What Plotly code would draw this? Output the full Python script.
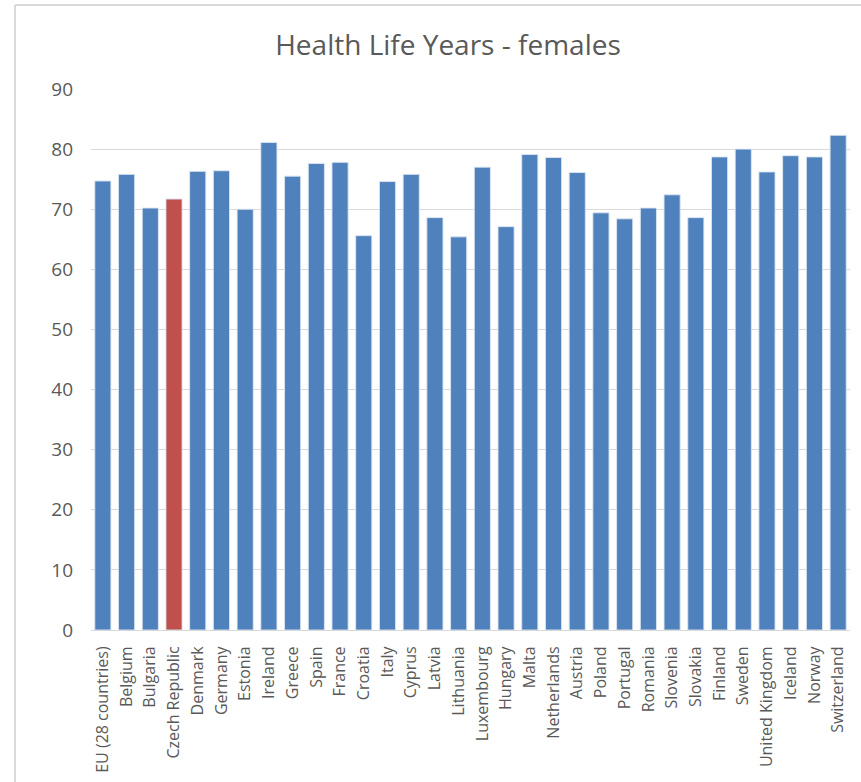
import plotly.graph_objects as go

countries = [
    "EU (28 countries)", "Belgium", "Bulgaria", "Czech Republic", "Denmark",
    "Germany", "Estonia", "Ireland", "Greece", "Spain", "France", "Croatia",
    "Italy", "Cyprus", "Latvia", "Lithuania", "Luxembourg", "Hungary", "Malta",
    "Netherlands", "Austria", "Poland", "Portugal", "Romania", "Slovenia",
    "Slovakia", "Finland", "Sweden", "United Kingdom", "Iceland", "Norway",
    "Switzerland",
]
years = [
    74.7, 75.8, 70.2, 71.7, 76.3,
    76.4, 70.0, 81.1, 75.5, 77.6, 77.8, 65.6,
    74.6, 75.8, 68.6, 65.4, 77.0, 67.1, 79.1,
    78.6, 76.1, 69.4, 68.4, 70.2, 72.4,
    68.6, 78.7, 80.0, 76.2, 78.9, 78.7,
    82.3,
]
highlight = "Czech Republic"
y_ticks = [0, 10, 20, 30, 40, 50, 60, 70, 80, 90]

BLUE = "#4F81BD"
RED = "#C0504D"
bar_colors = [RED if c == highlight else BLUE for c in countries]

W, H = 861, 782
L, R, T, B = 91, 11, 89, 152
PW, PH = W - L - R, H - T - B

fig = go.Figure(
    go.Bar(
        x=countries,
        y=years,
        marker=dict(color=bar_colors, line=dict(color="rgba(220,230,242,0.9)", width=1)),
        width=0.68,
        hoverinfo="x+y",
    )
)

fig.update_layout(
    width=W,
    height=H,
    margin=dict(l=L, r=R, t=T, b=B, autoexpand=False),
    paper_bgcolor="white",
    plot_bgcolor="white",
    showlegend=False,
    font=dict(family="Open Sans, sans-serif", color="#595959"),
    title=dict(
        text="Health Life Years - females",
        x=448 / W,
        xanchor="center",
        y=1 - 45 / H,
        yanchor="middle",
        font=dict(size=28, color="#595959", family="Open Sans, sans-serif"),
    ),
    xaxis=dict(
        tickangle=-90,
        tickfont=dict(size=16, color="#595959"),
        showgrid=False,
        showline=True,
        linecolor="#D9D9D9",
        linewidth=1,
        ticks="",
        ticklabelstandoff=9,
        automargin=False,
        range=[-0.5, len(countries) - 0.5],
    ),
    yaxis=dict(
        range=[0, 90],
        tickvals=y_ticks,
        tickfont=dict(size=19, color="#595959"),
        showgrid=True,
        gridcolor="#D9D9D9",
        gridwidth=1,
        zeroline=False,
        showline=False,
        ticks="",
        ticklabelstandoff=17,
        automargin=False,
    ),
    shapes=[
        # chart frame edges (left and top)
        dict(type="line", xref="paper", yref="paper",
             x0=(15 - L) / PW, x1=(15 - L) / PW,
             y0=-B / PH, y1=1 + (T - 5) / PH,
             line=dict(color="#D9D9D9", width=2)),
        dict(type="line", xref="paper", yref="paper",
             x0=(15 - L) / PW, x1=1 + R / PW,
             y0=1 + (T - 5) / PH, y1=1 + (T - 5) / PH,
             line=dict(color="#D9D9D9", width=2)),
    ],
)

fig.write_html("out.html")
